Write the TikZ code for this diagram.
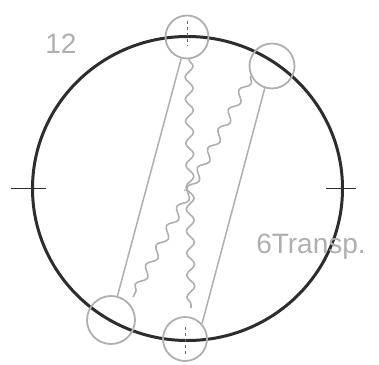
\documentclass[tikz,border=0pt]{standalone}
\usepackage{fontspec}
\setmainfont{Liberation Sans}
\usetikzlibrary{shapes.geometric,decorations.pathmorphing}
\definecolor{pencil}{RGB}{45,45,45}
\definecolor{faint}{RGB}{175,175,175}
\tikzset{
  dial/.style={ellipse,draw=pencil,line width=3pt,minimum width=310pt,minimum height=304pt,inner sep=0pt},
  hole/.style={circle,draw=faint,line width=1.8pt,minimum size=#1,inner sep=0pt},
  hole/.default=43pt,
  rod/.style={draw=faint,line width=1.5pt},
  wiggle/.style={draw=faint,line width=1.6pt,decorate,
    decoration={snake,amplitude=4pt,segment length=22pt}},
  tickline/.style={draw=pencil,line width=1.5pt},
  dashmark/.style={draw=pencil!70,line width=0.9pt,dash pattern=on 3pt off 3pt},
  note/.style={text=faint,font=\fontsize{28}{30}\selectfont,inner sep=0pt},
}
\begin{document}
\begin{tikzpicture}[x=1pt,y=-1pt]
  \useasboundingbox (0,0) rectangle (379,364);
  % clock face
  \node[dial] (face) at (187.5,188.5) {};
  \draw[tickline] ([xshift=-20]face.west) -- ([xshift=15]face.west);
  \draw[tickline] ([xshift=-18]face.east) -- ([xshift=12]face.east);
  % small circles on the rim
  \foreach \n/\p/\s in {top/{187,37}/43pt,topright/{272,66}/45pt,botleft/{111,320}/48pt,bot/{185,339}/44pt}{
    \node[hole=\s] (\n) at (\p) {};
  }
  \draw[dashmark] ([yshift=-6]top.north) -- ([yshift=-9]top.center);
  \draw[dashmark] ([yshift=12]bot.center) -- ([yshift=7]bot.south);
  % rods
  \draw[rod] (top.255) -- (botleft.75);
  \draw[rod] (topright.252) -- (bot.42);
  % wavy tracks
  \coordinate (endA) at (191,308);
  \coordinate (endB) at (133,297);
  \draw[wiggle] (top.275) -- (endA);
  \draw[wiggle] (topright.205) -- (endB);
  \fill[faint] (185,190) circle (1pt);
  % labels
  \node[note] (twelve) at (61,44) {12};
  \node[note] (six) at (311,247) {6Transp.};
\end{tikzpicture}
\end{document}
